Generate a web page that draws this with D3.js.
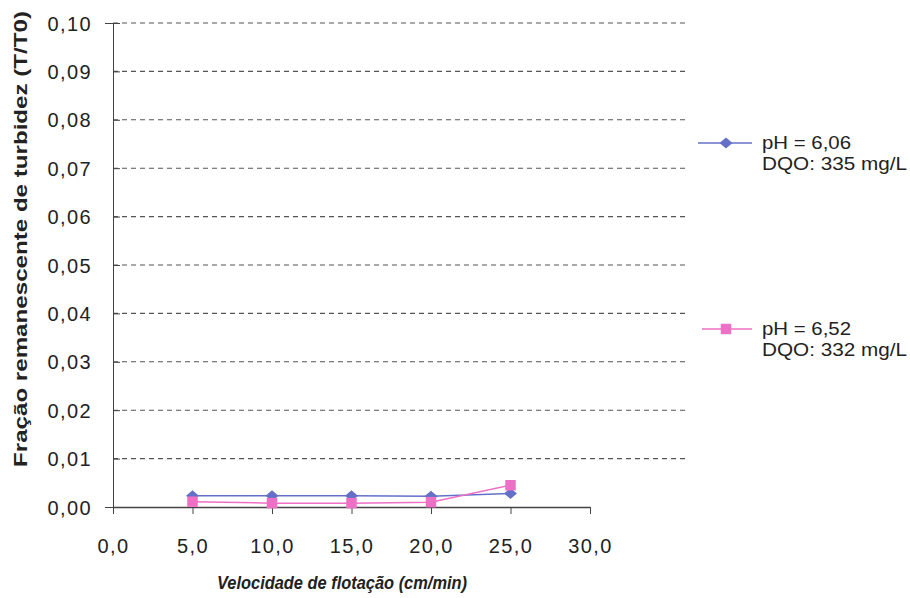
<!DOCTYPE html>
<html>
<head>
<meta charset="utf-8">
<script src="https://cdn.jsdelivr.net/npm/d3@7"></script>
<style>
  html, body { margin: 0; padding: 0; background: #fff; }
  svg { display: block; }
  text { font-family: Arial, "Liberation Sans", sans-serif; fill: #222; }
</style>
</head>
<body>
<svg id="chart" width="910" height="598"></svg>
<script>
// Flotation speed (cm/min)
const velocidades = [5, 10, 15, 20, 25];
// Remaining turbidity fraction T/T0 for each run
const serieA = [0.0023, 0.0023, 0.0023, 0.0022, 0.0028];
const serieB = [0.0011, 0.0008, 0.0008, 0.0010, 0.0045];
const nomesSeries = [["pH = 6,06", "DQO: 335 mg/L"], ["pH = 6,52", "DQO: 332 mg/L"]];
const coresSeries = ["#6470c8", "#ee6fc6"];
const xTicks = [0, 5, 10, 15, 20, 25, 30];
const yTicks = [0, 0.01, 0.02, 0.03, 0.04, 0.05, 0.06, 0.07, 0.08, 0.09, 0.10];

const svg = d3.select("#chart");
const plotLeft = 113, plotRight = 590, gridRight = 688, plotTop = 23, plotBottom = 507;

const x = d3.scaleLinear().domain([0, 30]).range([plotLeft, plotRight]);
const y = d3.scaleLinear().domain([0, 0.10]).range([plotBottom, plotTop]);
const fmt = (v, d) => v.toFixed(d).replace(".", ",");

// dashed horizontal gridlines
svg.append("g").selectAll("line").data(yTicks.filter(t => t > 0)).join("line")
  .attr("x1", plotLeft).attr("x2", gridRight)
  .attr("y1", d => y(d)).attr("y2", d => y(d))
  .attr("stroke", "#555").attr("stroke-width", 1.1).attr("stroke-dasharray", "5,4");

// y axis
const yAxis = svg.append("g").attr("transform", `translate(${plotLeft},0)`)
  .call(d3.axisLeft(y).tickValues(yTicks).tickSize(8).tickFormat(d => fmt(d, 2)));
yAxis.select(".domain").attr("stroke", "#444");
yAxis.selectAll(".tick line").attr("stroke", "#444").attr("x2", 7);
yAxis.selectAll(".tick text").attr("x", -21).attr("dy", "0.35em")
  .style("font-size", "20px").style("letter-spacing", "1.4px").style("font-family", "Arial, 'Liberation Sans', sans-serif").attr("fill", "#222");

// x axis
const xAxis = svg.append("g").attr("transform", `translate(0,${plotBottom})`)
  .call(d3.axisBottom(x).tickValues(xTicks).tickSize(7).tickSizeOuter(0).tickFormat(d => fmt(d, 1)));
xAxis.select(".domain").attr("stroke", "#444").attr("stroke-width", 1.3);
xAxis.selectAll(".tick line").attr("stroke", "#444");
xAxis.selectAll(".tick text").attr("y", 32)
  .style("font-size", "20px").style("letter-spacing", "1.4px").style("font-family", "Arial, 'Liberation Sans', sans-serif").attr("fill", "#222");

// axis titles
svg.append("text")
  .attr("transform", `translate(27,467) rotate(-90)`)
  .attr("text-anchor", "start")
  .attr("textLength", 456).attr("lengthAdjust", "spacingAndGlyphs")
  .style("font-size", "19px").style("font-weight", "bold")
  .text("Fração remanescente de turbidez (T/T0)");

svg.append("text")
  .attr("x", 342).attr("y", 589)
  .attr("text-anchor", "middle")
  .attr("textLength", 250).attr("lengthAdjust", "spacingAndGlyphs")
  .style("font-size", "17.5px").style("font-weight", "bold").style("font-style", "italic")
  .text("Velocidade de flotação (cm/min)");

// series
const series = [serieA, serieB];
const line = d3.line().x(d => x(d[0])).y(d => y(d[1]));
// wide diamond marker
const wideDiamond = {
  draw(ctx, size) {
    const w = Math.sqrt(size) * 0.72, h = Math.sqrt(size) * 0.62;
    ctx.moveTo(0, -h); ctx.lineTo(w, 0); ctx.lineTo(0, h); ctx.lineTo(-w, 0); ctx.closePath();
  }
};
const diamond = d3.symbol().type(wideDiamond).size(80);
const square = d3.symbol().type(d3.symbolSquare).size(110);

series.forEach((vals, i) => {
  const pts = velocidades.map((v, k) => [v, vals[k]]);
  svg.append("path").datum(pts).attr("d", line)
    .attr("fill", "none").attr("stroke", coresSeries[i]).attr("stroke-width", 1.5);
  svg.append("g").selectAll("path").data(pts).join("path")
    .attr("transform", d => `translate(${x(d[0])},${y(d[1])})`)
    .attr("d", i === 0 ? diamond : square)
    .attr("fill", coresSeries[i]);
});

// legend
const legendY = [143, 329];
const legendX1 = [698, 702];
nomesSeries.forEach((lbl, i) => {
  const g = svg.append("g").attr("transform", `translate(0,${legendY[i]})`);
  g.append("line").attr("x1", legendX1[i]).attr("x2", 752).attr("y1", 0).attr("y2", 0)
    .attr("stroke", coresSeries[i]).attr("stroke-width", 1.5);
  g.append("path").attr("transform", "translate(726,0)")
    .attr("d", i === 0 ? diamond : square).attr("fill", coresSeries[i]);
  g.append("text").attr("x", 762).attr("y", 6)
    .attr("textLength", 89).attr("lengthAdjust", "spacingAndGlyphs")
    .style("font-size", "17.5px").text(lbl[0]);
  g.append("text").attr("x", 762).attr("y", 27)
    .attr("textLength", 145).attr("lengthAdjust", "spacingAndGlyphs")
    .style("font-size", "17.5px").text(lbl[1]);
});
</script>
</body>
</html>
